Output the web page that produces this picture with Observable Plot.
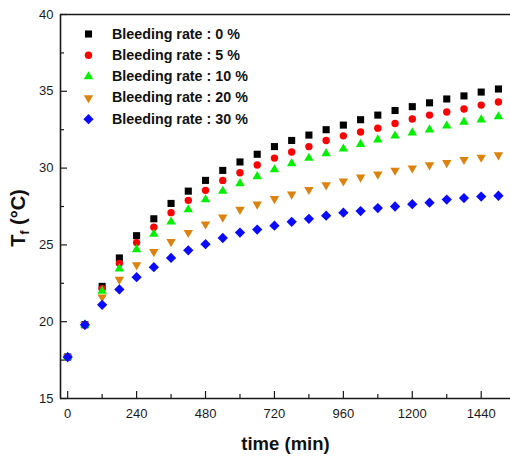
<!DOCTYPE html>
<html><head><meta charset="utf-8">
<script src="https://cdn.jsdelivr.net/npm/d3@7"></script>
<script src="https://cdn.jsdelivr.net/npm/@observablehq/plot@0.6"></script>
<style>
body{margin:0;background:#fff}
#chart{width:510px;height:457px}
</style>
</head><body><div id="chart"></div>
<script>
// ---- data ----
const times = [0,60,120,180,240,300,360,420,480,540,600,660,720,780,840,900,960,1020,1080,1140,1200,1260,1320,1380,1440,1500];
const rate0  = [17.7,19.8,22.3,24.15,25.6,26.7,27.7,28.5,29.2,29.85,30.4,30.9,31.4,31.8,32.15,32.5,32.8,33.15,33.45,33.75,34.0,34.25,34.5,34.7,34.95,35.15];
const rate5  = [17.7,19.8,22.15,23.8,25.15,26.15,27.1,27.9,28.55,29.2,29.7,30.2,30.65,31.05,31.4,31.8,32.1,32.35,32.6,32.9,33.2,33.45,33.65,33.85,34.1,34.3];
const rate10 = [17.7,19.8,22.0,23.45,24.7,25.7,26.5,27.3,27.95,28.5,29.0,29.45,29.9,30.3,30.65,30.95,31.25,31.55,31.85,32.1,32.3,32.5,32.75,33.0,33.15,33.35];
const rate20 = [17.7,19.8,21.6,22.75,23.7,24.55,25.2,25.8,26.35,26.8,27.3,27.65,28.0,28.3,28.6,28.9,29.15,29.4,29.6,29.85,30.0,30.2,30.35,30.55,30.7,30.85];
const rate30 = [17.7,19.8,21.1,22.1,22.9,23.55,24.15,24.65,25.05,25.45,25.8,26.0,26.25,26.5,26.7,26.9,27.1,27.2,27.4,27.5,27.65,27.75,27.95,28.05,28.15,28.2];
const seriesNames = ["Bleeding rate : 0 %","Bleeding rate : 5 %","Bleeding rate : 10 %","Bleeding rate : 20 %","Bleeding rate : 30 %"];
const xTicks = [0,240,480,720,960,1200,1440];
const xMinor = [120,360,600,840,1080,1320];
const yTicks = [15,20,25,30,35,40];
const yMinor = [17.5,22.5,27.5,32.5,37.5];
const xDomain = [-25,1542];
const yDomain = [15,40];
const xLabel = "time (min)";

// ---- styles ----
const colors = ["#000000","#ff0000","#00f000","#dc820e","#0a0aff"];
const shapes = [
  {symbol:"square", rotate:0, r:4},
  {symbol:"circle", rotate:0, r:3.7},
  {symbol:"triangle", rotate:0, r:3.5},
  {symbol:"triangle", rotate:180, r:3.5},
  {symbol:"square", rotate:45, r:4.1}
];
const series = [rate0, rate5, rate10, rate20, rate30];
const font = "'Liberation Sans', Arial, sans-serif";

const marks = [];
// frame lines
marks.push(Plot.ruleX([xDomain[0]], {stroke:"#1a1a1a", strokeWidth:1.6}));
marks.push(Plot.ruleY([yDomain[0], yDomain[1]], {stroke:"#1a1a1a", strokeWidth:1.6}));
// axes
marks.push(Plot.axisX(xTicks, {tickSize:-7, tickPadding:17, fontSize:13, tickFormat:d => String(d), label:null, stroke:"#1a1a1a", strokeWidth:1.2}));
marks.push(Plot.axisX(xMinor, {tickSize:-4, tickPadding:0, tickFormat:() => "", label:null, strokeWidth:1.2}));
marks.push(Plot.axisY(yTicks, {tickSize:-7, tickPadding:14, fontSize:13, tickFormat:d => String(d), label:null, strokeWidth:1.2}));
marks.push(Plot.axisY(yMinor, {tickSize:-4, tickPadding:0, tickFormat:() => "", label:null, strokeWidth:1.2}));
// data
series.forEach((vals, k) => {
  const data = times.map((t, i) => ({t, v: vals[i]}));
  marks.push(Plot.dot(data, {x:"t", y:"v", symbol:shapes[k].symbol, rotate:shapes[k].rotate, r:shapes[k].r, fill:colors[k], stroke:"none"}));
});
// legend
seriesNames.forEach((name, k) => {
  marks.push(Plot.dot([name], {frameAnchor:"top-left", dx:28, dy:19.5 + k*21.3, symbol:shapes[k].symbol, rotate:shapes[k].rotate, r:shapes[k].r, fill:colors[k], stroke:"none"}));
  marks.push(Plot.text([name], {frameAnchor:"top-left", dx:51.5, dy:19.5 + k*21.3, text:d => d, textAnchor:"start", lineAnchor:"middle", fontSize:14.3, fontWeight:"bold", fill:"#111"}));
});
// x label
marks.push(Plot.text([xLabel], {frameAnchor:"bottom", dy:46, text:d => d, lineAnchor:"middle", fontSize:18.5, fontWeight:"bold", fill:"#111"}));

const chart = Plot.plot({
  width:510, height:457,
  marginLeft:60, marginRight:0, marginTop:14, marginBottom:59,
  x:{domain:xDomain, label:null},
  y:{domain:yDomain, label:null},
  style:{fontFamily:font, fontSize:"13px", color:"#1a1a1a", background:"#fff", overflow:"visible"},
  marks
});
document.getElementById("chart").appendChild(chart);

// y label with subscript
const ylab = d3.select(chart).append("text")
  .attr("transform", "translate(25,218) rotate(-90)")
  .attr("text-anchor", "middle")
  .attr("font-family", font)
  .attr("font-weight", "bold")
  .attr("font-size", 20)
  .attr("fill", "#111");
ylab.append("tspan").text("T");
ylab.append("tspan").attr("font-size", 12).attr("dy", 4).text("f");
ylab.append("tspan").attr("dy", -4).text(" (°C)");
</script>
</body></html>
